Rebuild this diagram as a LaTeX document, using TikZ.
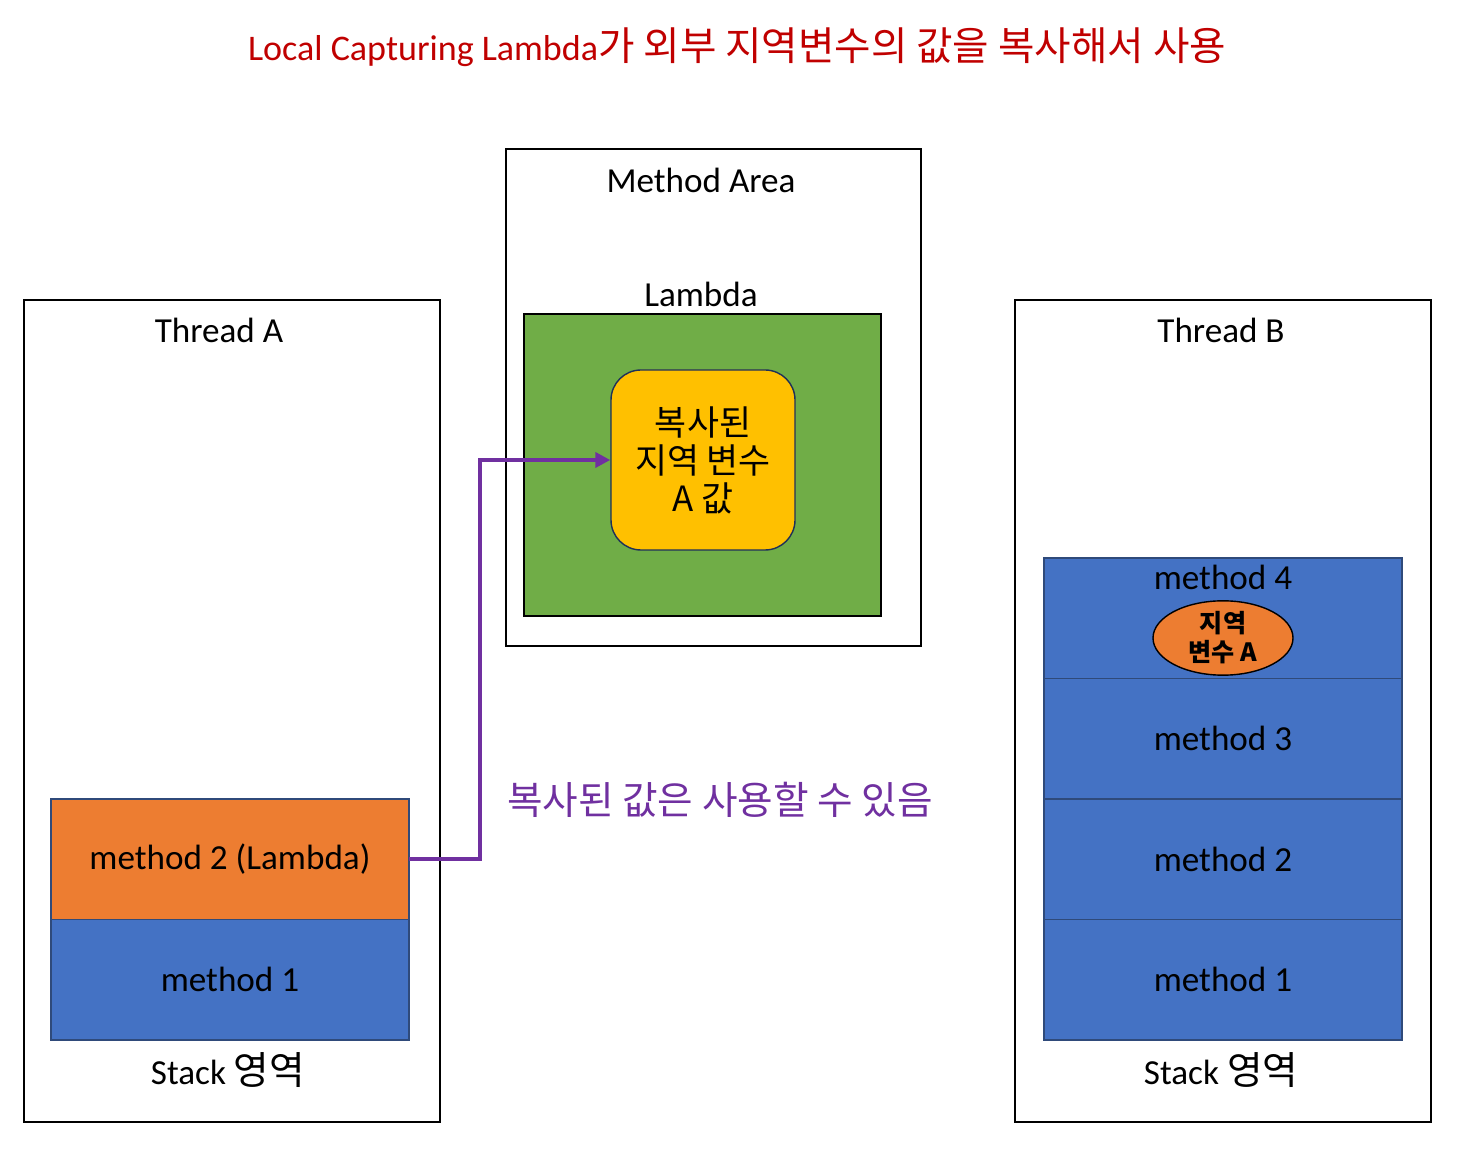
\documentclass[tikz,border=0pt]{standalone}
\usepackage{fontspec}
\setmainfont{Carlito}
\newfontfamily\kr[Scale=1.1]{Noto Sans CJK KR}
\usepackage{tikz}
\usetikzlibrary{shapes.geometric, arrows.meta, positioning}

\definecolor{titlered}{HTML}{C00000}
\definecolor{copypurple}{HTML}{7030A0}
\definecolor{slotblue}{HTML}{4472C4}
\definecolor{slotorange}{HTML}{ED7D31}
\definecolor{slotline}{HTML}{2F4A7A}
\definecolor{lambdagreen}{HTML}{70AD47}
\definecolor{valueyellow}{HTML}{FFC000}
\definecolor{valueline}{HTML}{1F3058}

\begin{document}
\begin{tikzpicture}[
    font=\fontsize{20}{24}\selectfont,
    frame/.style={rectangle, draw=black, line width=1.1pt, fill=white,
                  anchor=south west, outer sep=0pt},
    slot/.style={rectangle, draw=slotline, line width=0.8pt, fill=slotblue,
                 minimum width=7.16cm, minimum height=2.41cm, outer sep=0pt},
    lslot/.style={slot, fill=slotorange},
    value/.style={rectangle, rounded corners=0.6cm, draw=valueline, line width=0.8pt,
                  fill=valueyellow, minimum width=3.68cm, minimum height=3.6cm,
                  align=center, font=\kr\fontsize{18}{21.6}\selectfont},
    local/.style={ellipse, draw=black, line width=0.8pt, fill=slotorange,
                  minimum width=2.8cm, minimum height=1.2cm, inner sep=0pt,
                  align=center, font=\kr\bfseries\fontsize{13}{16.5}\selectfont},
    arr/.style={-{Triangle[length=0.3cm, width=0.3cm]}, line width=2.2pt,
                draw=copypurple}
]
\useasboundingbox (0,0) rectangle (29.48,23.44);

\node[text=titlered, font=\fontsize{20.5}{24}\selectfont] (title) at (14.74,22.5)
    {Local Capturing Lambda{\kr 가 외부 지역변수의 값을 복사해서 사용}};

% frames
\node[frame, minimum width=8.32cm, minimum height=16.44cm] (threadA) at (0.48,1.0) {};
\node[frame, minimum width=8.30cm, minimum height=9.94cm] (area) at (10.12,10.52) {};
\node[frame, minimum width=8.32cm, minimum height=16.44cm] (threadB) at (20.30,1.0) {};
\node[frame, fill=lambdagreen, minimum width=7.14cm, minimum height=6.04cm] (lambda) at (10.48,11.12) {};

\node (threadAlbl) at (4.38,16.84) {Thread A};
\node (threadBlbl) at (24.42,16.84) {Thread B};
\node (arealbl) at (14.02,19.84) {Method Area};
\node (lambdalbl) at (14.02,17.56) {Lambda};

\node[value] (copied) at (14.06,14.24) {복사된\\지역 변수\\A 값};

% thread A stack
\node[lslot, anchor=north west] (a2) at (1.02,7.46) {method 2 (Lambda)};
\node[slot, below=0pt of a2] (a1) {method 1};
\node (stackA) at (4.56,2.04) {Stack {\kr 영역}};

% thread B stack
\node[slot, anchor=north west] (b4) at (20.88,12.28) {};
\node[slot, below=0pt of b4] (b3) {method 3};
\node[slot, below=0pt of b3] (b2) {method 2};
\node[slot, below=0pt of b2] (b1) {method 1};
\node (b4lbl) at ([yshift=-0.38cm]b4.north) {method 4};
\node[local] (localA) at ([yshift=-1.6cm]b4.north) {지역\\변수 A};
\node (stackB) at (24.42,2.04) {Stack {\kr 영역}};

\draw[arr] (a2.east) -- ++(1.42,0) |- (copied.west);
\node[text=copypurple, font=\kr\fontsize{20}{24}\selectfont] (note) at (14.4,7.44)
    {복사된 값은 사용할 수 있음};
\end{tikzpicture}
\end{document}
